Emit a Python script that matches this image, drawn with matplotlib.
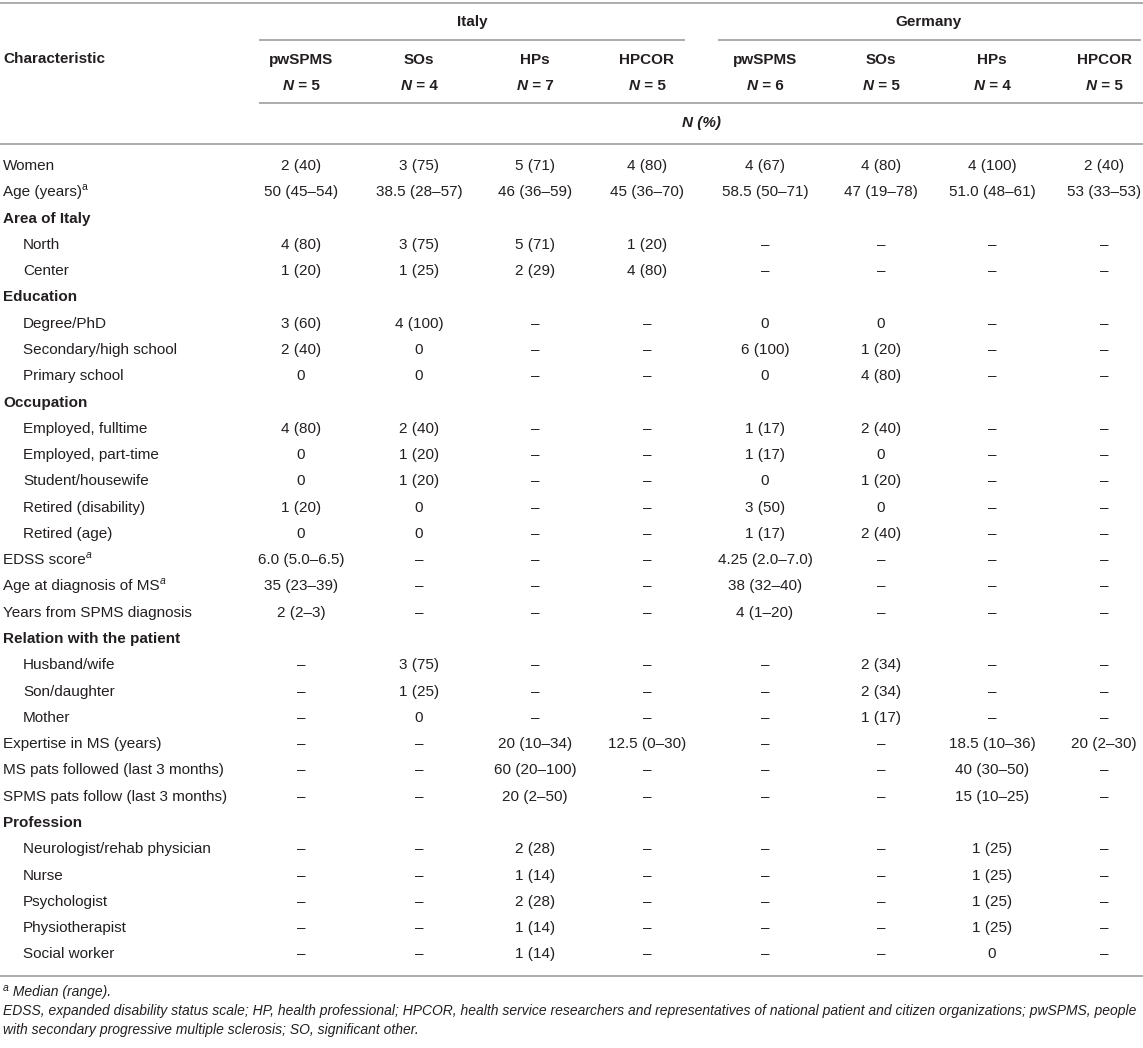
import matplotlib
matplotlib.use("Agg")
import matplotlib.pyplot as plt
from matplotlib.font_manager import FontProperties

# ---------------- data ----------------
countries = ["Italy", "Germany"]
groups = ["pwSPMS", "SOs", "HPs", "HPCOR", "pwSPMS", "SOs", "HPs", "HPCOR"]
group_n = [5, 4, 7, 5, 6, 5, 4, 5]
unit_label = "N (%)"

row_labels = [
    "Women", "Age (years)", "Area of Italy", "North", "Center",
    "Education", "Degree/PhD", "Secondary/high school", "Primary school",
    "Occupation", "Employed, fulltime", "Employed, part-time", "Student/housewife",
    "Retired (disability)", "Retired (age)", "EDSS score", "Age at diagnosis of MS",
    "Years from SPMS diagnosis", "Relation with the patient", "Husband/wife",
    "Son/daughter", "Mother", "Expertise in MS (years)",
    "MS pats followed (last 3 months)", "SPMS pats follow (last 3 months)",
    "Profession", "Neurologist/rehab physician", "Nurse", "Psychologist",
    "Physiotherapist", "Social worker",
]
# kind: 'top' = plain top-level row, 'sec' = bold section header, 'sub' = indented row
row_kinds = [
    "top", "top", "sec", "sub", "sub",
    "sec", "sub", "sub", "sub",
    "sec", "sub", "sub", "sub", "sub", "sub", "top", "top", "top",
    "sec", "sub", "sub", "sub", "top", "top", "top",
    "sec", "sub", "sub", "sub", "sub", "sub",
]
# superscript footnote marks: '' none, 'a' upright, 'ai' italic
row_marks = [
    "", "a", "", "", "", "", "", "", "", "", "", "", "", "", "", "ai", "ai",
    "", "", "", "", "", "", "", "", "", "", "", "", "", "",
]

D = "–"
italy_pwspms = ["2 (40)", "50 (45–54)", None, "4 (80)", "1 (20)", None, "3 (60)", "2 (40)", "0",
                None, "4 (80)", "0", "0", "1 (20)", "0", "6.0 (5.0–6.5)", "35 (23–39)", "2 (2–3)",
                None, D, D, D, D, D, D, None, D, D, D, D, D]
italy_sos = ["3 (75)", "38.5 (28–57)", None, "3 (75)", "1 (25)", None, "4 (100)", "0", "0",
             None, "2 (40)", "1 (20)", "1 (20)", "0", "0", D, D, D,
             None, "3 (75)", "1 (25)", "0", D, D, D, None, D, D, D, D, D]
italy_hps = ["5 (71)", "46 (36–59)", None, "5 (71)", "2 (29)", None, D, D, D,
             None, D, D, D, D, D, D, D, D,
             None, D, D, D, "20 (10–34)", "60 (20–100)", "20 (2–50)", None,
             "2 (28)", "1 (14)", "2 (28)", "1 (14)", "1 (14)"]
italy_hpcor = ["4 (80)", "45 (36–70)", None, "1 (20)", "4 (80)", None, D, D, D,
               None, D, D, D, D, D, D, D, D,
               None, D, D, D, "12.5 (0–30)", D, D, None, D, D, D, D, D]
germany_pwspms = ["4 (67)", "58.5 (50–71)", None, D, D, None, "0", "6 (100)", "0",
                  None, "1 (17)", "1 (17)", "0", "3 (50)", "1 (17)", "4.25 (2.0–7.0)", "38 (32–40)", "4 (1–20)",
                  None, D, D, D, D, D, D, None, D, D, D, D, D]
germany_sos = ["4 (80)", "47 (19–78)", None, D, D, None, "0", "1 (20)", "4 (80)",
               None, "2 (40)", "0", "1 (20)", "0", "2 (40)", D, D, D,
               None, "2 (34)", "2 (34)", "1 (17)", D, D, D, None, D, D, D, D, D]
germany_hps = ["4 (100)", "51.0 (48–61)", None, D, D, None, D, D, D,
               None, D, D, D, D, D, D, D, D,
               None, D, D, D, "18.5 (10–36)", "40 (30–50)", "15 (10–25)", None,
               "1 (25)", "1 (25)", "1 (25)", "1 (25)", "0"]
germany_hpcor = ["2 (40)", "53 (33–53)", None, D, D, None, D, D, D,
                 None, D, D, D, D, D, D, D, D,
                 None, D, D, D, "20 (2–30)", D, D, None, D, D, D, D, D]
columns = [italy_pwspms, italy_sos, italy_hps, italy_hpcor,
           germany_pwspms, germany_sos, germany_hps, germany_hpcor]

footnote_a = "Median (range)."
footnote_abbr = [
    "EDSS, expanded disability status scale; HP, health professional; HPCOR, health service researchers and representatives of national patient and citizen organizations; pwSPMS, people",
    "with secondary progressive multiple sclerosis; SO, significant other.",
]

# ---------------- layout / style ----------------
W, H = 1143, 1048
TXT = "#231f20"
LINE = "#a6a6a6"
FAM = "Liberation Sans"
FS = 11
col_x = [301, 419, 535, 647, 765, 881, 992, 1104]
country_x = [472, 929]
country_spans = [(259, 685), (718, 1141)]

fig = plt.figure(figsize=(W / 100, H / 100), dpi=100)
ax = fig.add_axes([0, 0, 1, 1])
ax.set_xlim(0, W)
ax.set_ylim(H, 0)
ax.axis("off")
renderer = fig.canvas.get_renderer()


def fp(weight="normal", style="normal", size=FS):
    return FontProperties(family=FAM, weight=weight, style=style, size=size)


def text_width(s, prop):
    t = ax.text(0, 0, s, fontproperties=prop)
    w = t.get_window_extent(renderer).width
    t.remove()
    return w


def runs(x, y, parts, ha="left"):
    """parts: list of (string, FontProperties, dy)"""
    widths = [text_width(s, p) for s, p, _ in parts]
    total = sum(widths)
    if ha == "center":
        x = x - total / 2
    for (s, p, dy), w in zip(parts, widths):
        ax.text(x, y + dy, s, fontproperties=p, color=TXT, va="center", ha="left")
        x += w


def hline(y, x0, x1):
    ax.plot([x0, x1], [y, y], color=LINE, lw=1.3, solid_capstyle="butt")


# rules
hline(3, 0, W)
for x0, x1 in country_spans:
    hline(40, x0, x1)
hline(103, 259, W)
hline(144, 0, W)
hline(976, 0, W)

# header text
ax.text(3, 59, "Characteristic", fontproperties=fp("bold"), color=TXT, va="center", ha="left")
for name, cx in zip(countries, country_x):
    ax.text(cx, 22, name, fontproperties=fp("bold"), color=TXT, va="center", ha="center")
for g, n, cx in zip(groups, group_n, col_x):
    ax.text(cx, 60, g, fontproperties=fp("bold"), color=TXT, va="center", ha="center")
    runs(cx, 86, [("N", fp("bold", "italic"), 0), (f" = {n}", fp("bold"), 0)], ha="center")
runs((259 + W) / 2, 123, [(unit_label, fp("bold", "italic"), 0)], ha="center")

# body rows
y0, dy = 166, 26.28
for i, (lab, kind, mark) in enumerate(zip(row_labels, row_kinds, row_marks)):
    y = y0 + i * dy
    if kind == "sec":
        ax.text(3, y, lab, fontproperties=fp("bold"), color=TXT, va="center", ha="left")
        continue
    x = 23 if kind == "sub" else 3
    parts = [(lab, fp(), 0)]
    if mark:
        parts.append(("a", fp(style="italic" if mark == "ai" else "normal", size=7.5), -5))
    runs(x, y, parts)
    for col, cx in zip(columns, col_x):
        v = col[i]
        if v is not None:
            ax.text(cx, y, v, fontproperties=fp(), color=TXT, va="center", ha="center")

# footnotes
FFS = 10.0
runs(3, 992, [("a", fp(style="italic", size=7.5), -4), (" " + footnote_a, fp(style="italic", size=FFS), 0)])
ax.text(3, 1011, footnote_abbr[0], fontproperties=fp(style="italic", size=FFS), color=TXT, va="center", ha="left")
ax.text(3, 1030, footnote_abbr[1], fontproperties=fp(style="italic", size=FFS), color=TXT, va="center", ha="left")

fig.savefig("out.png", dpi=100)
